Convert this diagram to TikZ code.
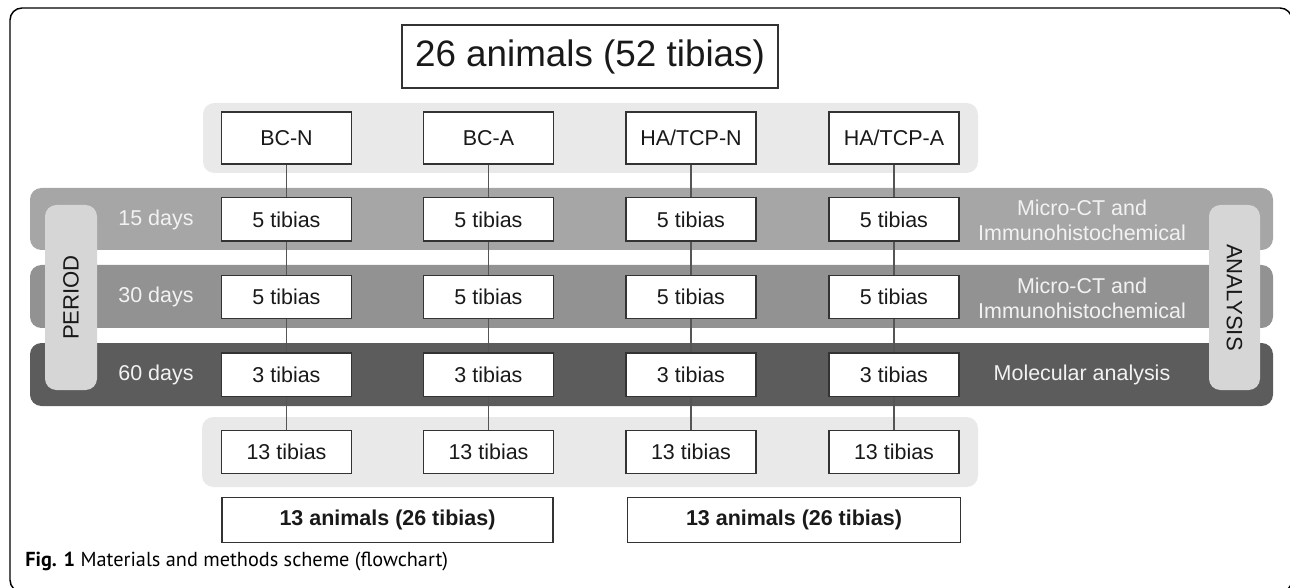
\documentclass[tikz,border=0pt]{standalone}
\usepackage{fontspec}
\setmainfont{Liberation Sans}
\newfontfamily\capfont{PT Sans}
\pgfdeclarelayer{back}
\pgfdeclarelayer{mid}
\pgfsetlayers{back,mid,main}
\definecolor{bandlight}{HTML}{E9E9E9}
\definecolor{bandA}{HTML}{A6A6A6}
\definecolor{bandB}{HTML}{929292}
\definecolor{bandC}{HTML}{5C5C5C}
\definecolor{sidebox}{HTML}{D6D6D6}
\definecolor{boxline}{HTML}{333333}
\definecolor{conn}{HTML}{555555}
\definecolor{lbl}{HTML}{F2F2F2}
\tikzset{
  box/.style={draw=boxline, line width=1pt, fill=white, inner sep=0pt, minimum width=97.5pt, minimum height=32.5pt, text=black!90, font=\fontsize{16.1}{18.75}\selectfont},
  grpbox/.style={box, minimum height=39pt},
  sumbox/.style={box, minimum height=33.75pt, font=\fontsize{16.1}{18.75}\selectfont\bfseries},
  band/.style={rounded corners=8.5pt},
  daylbl/.style={text=lbl, font=\fontsize{16.1}{18.75}\selectfont},
  anlbl/.style={text=lbl, font=\fontsize{16.1}{18.75}\selectfont, align=center},
  sidelbl/.style={text=black!90, font=\fontsize{16.6}{18.75}\selectfont},
  connector/.style={draw=conn, line width=0.8pt}
}
\begin{document}
\begin{tikzpicture}[x=0.75pt,y=-0.75pt]
\useasboundingbox (0,0) rectangle (1290,588);
% frame
\draw[line width=1.1pt, rounded corners=9pt] (10,8) rectangle (1292,592);
\begin{pgfonlayer}{back}
\fill[bandlight, band] (203,103) rectangle (978,173);
\fill[bandA, band] (30,188) rectangle (1273,250);
\fill[bandB, band] (30,265) rectangle (1273,328);
\fill[bandC, band] (30,343) rectangle (1273,406);
\fill[bandlight, band] (202,417) rectangle (978,487);
\fill[sidebox, band] (45,205) rectangle (97,390);
\fill[sidebox, band] (1209,205) rectangle (1260,390);
\end{pgfonlayer}
\node[sidelbl, rotate=90] (period) at (71,297.5) {PERIOD};
\node[sidelbl, rotate=-90] (analysis) at (1234.5,297.5) {ANALYSIS};
% title
\node[box, minimum width=282pt, minimum height=47.25pt, font=\fontsize{27.6}{33}\selectfont] (title) at (590,56.5) {26 animals (52 tibias)};
% day labels
\node[daylbl] (d15) at (156,219.5) {15 days};
\node[daylbl] (d30) at (156,297) {30 days};
\node[daylbl] (d60) at (156,374.5) {60 days};
% analysis labels
\node[anlbl] (a15) at (1082,220.5) {Micro-CT and\\Immunohistochemical};
\node[anlbl] (a30) at (1082,298) {Micro-CT and\\Immunohistochemical};
\node[anlbl] (a60) at (1082,374.5) {Molecular analysis};
% columns
\foreach \n/\x/\g in {1/286.5/BC-N, 2/488.5/BC-A, 3/691/HA\slash TCP-N, 4/894/HA\slash TCP-A}{
  \node[grpbox] (g\n) at (\x,138) {\g};
  \node[box] (r\n a) at (\x,219.5) {5 tibias};
  \node[box] (r\n b) at (\x,297) {5 tibias};
  \node[box] (r\n c) at (\x,374.5) {3 tibias};
  \node[box] (r\n d) at (\x,452) {13 tibias};
}
\begin{pgfonlayer}{mid}
\foreach \n in {1,2,3,4}{
  \draw[connector] (g\n) -- (r\n a);
  \draw[connector] (r\n a) -- (r\n b);
  \draw[connector] (r\n b) -- (r\n c);
  \draw[connector] (r\n c) -- (r\n d);
}
\end{pgfonlayer}
\node[sumbox, minimum width=248.25pt] (s1) at (387.5,520) {13 animals (26 tibias)};
\node[sumbox, minimum width=249.75pt] (s2) at (794,520) {13 animals (26 tibias)};
% caption
\node[anchor=west, inner sep=0pt, font=\capfont\fontsize{15.2}{18}\selectfont] (cap) at (25,562) {\textbf{Fig. 1} Materials and methods scheme (flowchart)};
\end{tikzpicture}
\end{document}
